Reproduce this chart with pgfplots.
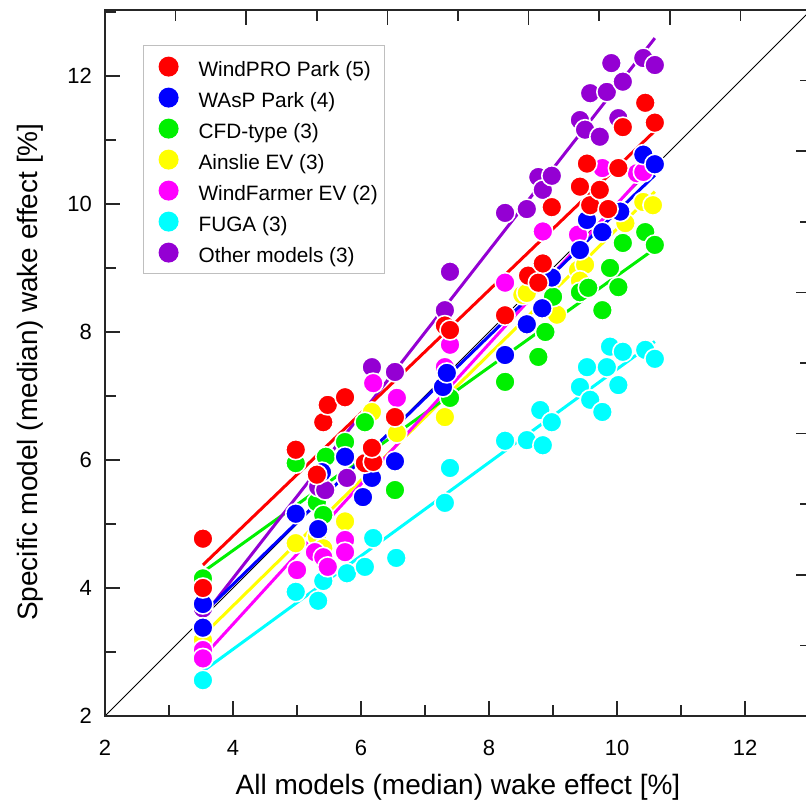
\documentclass[border=0pt]{standalone}
\usepackage{pgfplots}
\pgfplotsset{compat=1.18}
\usepackage{fontspec}
\setmainfont{Liberation Sans}
\definecolor{cRed}{RGB}{255,0,0}
\definecolor{cBlue}{RGB}{0,0,255}
\definecolor{cGreen}{RGB}{0,240,0}
\definecolor{cYellow}{RGB}{255,255,0}
\definecolor{cMag}{RGB}{255,0,255}
\definecolor{cCyan}{RGB}{0,255,255}
\definecolor{cPur}{RGB}{148,0,211}
\pgfplotsset{
  dot/.style={only marks, mark=*, mark size=5pt, mark options={fill=#1, draw=white, line width=0.8pt}, forget plot},
  fit/.style={#1, line width=1.5pt, forget plot},
  leg/.style={legend image code/.code={\path[draw=none,fill=none] (0pt,-5pt) rectangle (24pt,5pt); \fill[#1, draw=none] (11.5pt,0pt) circle (5pt);}},
}
\begin{document}
\begin{tikzpicture}
\begin{axis}[
  at={(0,0)}, anchor=south west,
  scale only axis, width=353pt, height=353pt,
  xmin=2, xmax=13.03, ymin=2, ymax=13.03,
  axis line style={line width=1pt, black!85},
  xtick={2,4,...,12}, minor xtick={3,5,...,13},
  ytick={2,4,...,12}, minor ytick={3,5,...,13},
  tick align=inside, tick pos=left,
  major tick length=7.5pt, minor tick length=5.5pt,
  every tick/.style={line width=0.75pt, black!85},
  tick label style={font=\fontsize{11}{13}\selectfont},
  /pgf/number format/assume math mode=true,
  xticklabel style={yshift=-8.5pt},
  yticklabel style={xshift=-3pt},
  xlabel={All models (median) wake effect [\%]},
  ylabel={Specific model (median) wake effect [\%]},
  label style={font=\fontsize{14}{16}\selectfont},
  xlabel style={at={(axis description cs:0.5,0)}, anchor=base, yshift=-39pt},
  ylabel style={at={(axis description cs:0,0.487)}, anchor=base, yshift=33.5pt},
  legend style={at={(axis description cs:0.0538,0.9504)}, anchor=north west,
    draw=black!25, line width=0.6pt, font=\fontsize{10.4}{12}\selectfont,
    row sep=0.5pt, inner xsep=1pt, inner ysep=3pt,
    nodes={inner sep=2.5pt, text height=10pt, text depth=0pt}},
  legend cell align=left,
]
\addlegendimage{leg=cRed}\addlegendentry{WindPRO Park (5)}
\addlegendimage{leg=cBlue}\addlegendentry{WAsP Park (4)}
\addlegendimage{leg=cGreen}\addlegendentry{CFD-type (3)}
\addlegendimage{leg=cYellow}\addlegendentry{Ainslie EV (3)}
\addlegendimage{leg=cMag}\addlegendentry{WindFarmer EV (2)}
\addlegendimage{leg=cCyan}\addlegendentry{FUGA (3)}
\addlegendimage{leg=cPur}\addlegendentry{Other models (3)}

% 1:1 line
\addplot[black, line width=0.5pt, forget plot] coordinates {(2,2) (13.03,13.03)};
% fitted lines
\addplot[fit=cCyan] coordinates {(3.53,2.70) (10.59,7.85)};
\addplot[fit=cYellow] coordinates {(3.53,3.26) (10.59,10.19)};
\addplot[fit=cGreen] coordinates {(3.53,4.25) (10.59,9.30)};
\addplot[fit=cMag] coordinates {(3.53,2.92) (10.50,10.55)};
\addplot[fit=cPur] coordinates {(3.53,3.55) (10.59,12.59)};
\addplot[fit=cBlue] coordinates {(3.53,3.60) (10.59,10.45)};
\addplot[fit=cRed] coordinates {(3.53,4.36) (10.59,11.14)};

% Ainslie EV
\addplot[dot=cYellow] coordinates {
(3.53,3.19) (4.98,4.70) (5.31,4.80) (5.41,4.62) (5.75,5.04) (6.17,6.75) (6.56,6.42)
(7.31,6.67) (8.52,8.58) (8.59,8.61) (9.06,8.27) (9.39,8.97) (9.50,9.05) (9.42,8.80)
(10.13,9.70) (10.41,10.03) (10.56,9.98)};
% FUGA
\addplot[dot=cCyan] coordinates {
(3.53,2.56) (4.98,3.94) (5.33,3.80) (5.41,4.11) (5.78,4.23) (6.06,4.33) (6.19,4.78)
(6.55,4.47) (7.31,5.33) (7.39,5.875) (8.25,6.30) (8.59,6.31) (8.84,6.23) (8.80,6.78)
(8.98,6.59) (9.42,7.14) (9.58,6.94) (9.77,6.75) (9.53,7.45) (9.84,7.45) (10.02,7.17)
(9.89,7.77) (10.09,7.69) (10.44,7.72) (10.59,7.58)};
% CFD-type
\addplot[dot=cGreen] coordinates {
(3.53,4.15) (4.98,5.95) (5.31,5.34) (5.41,5.14) (5.45,6.05) (5.75,6.28) (6.06,6.59)
(6.53,5.53) (7.39,6.97) (8.25,7.22) (8.77,7.61) (8.88,8.00) (9.00,8.55) (9.42,8.62)
(9.55,8.69) (9.77,8.34) (9.89,9.00) (10.02,8.70) (10.09,9.39) (10.44,9.56) (10.59,9.36)};
% Other models
\addplot[dot=cPur] coordinates {
(3.53,3.68) (5.33,5.58) (5.44,5.53) (5.78,5.72) (6.17,7.45) (6.53,7.375) (7.31,8.34)
(7.39,8.94) (8.25,9.86) (8.59,9.92) (8.77,10.42) (8.84,10.22) (8.98,10.44) (9.42,11.31)
(9.50,11.16) (9.58,11.73) (9.73,11.05) (9.84,11.75) (9.91,12.20) (10.02,11.34)
(10.09,11.91) (10.41,12.28) (10.59,12.17)};
% WindFarmer EV
\addplot[dot=cMag] coordinates {
(3.53,3.03) (3.53,2.90) (5.00,4.28) (5.28,4.56) (5.41,4.48) (5.48,4.33) (5.75,4.75)
(5.75,4.56) (6.19,7.20) (6.56,6.97) (7.31,7.45) (7.39,7.80) (8.25,8.77) (8.84,9.57)
(9.39,9.52) (9.77,10.56) (10.31,10.48) (10.41,10.50)};
% WAsP Park
\addplot[dot=cBlue] coordinates {
(3.53,3.75) (3.53,3.38) (4.98,5.16) (5.33,4.92) (5.39,5.81) (5.75,6.05) (6.03,5.42)
(6.17,5.72) (6.53,5.98) (7.28,7.14) (7.34,7.36) (8.25,7.64) (8.59,8.12) (8.83,8.37)
(8.98,8.85) (9.42,9.28) (9.53,9.75) (9.77,9.56) (10.05,9.88) (10.41,10.77) (10.59,10.62)};
% WindPRO Park
\addplot[dot=cRed] coordinates {
(3.53,4.77) (3.53,4.00) (4.98,6.16) (5.31,5.77) (5.41,6.59) (5.48,6.86) (5.75,6.98)
(6.06,5.95) (6.19,5.97) (6.17,6.19) (6.53,6.67) (7.31,8.10) (7.39,8.03) (8.25,8.26)
(8.61,8.88) (8.77,8.77) (8.84,9.07) (8.98,9.95) (9.42,10.27) (9.53,10.63) (9.58,9.98)
(9.73,10.22) (9.86,9.92) (10.02,10.56) (10.09,11.20) (10.44,11.58) (10.59,11.27)};
\end{axis}
\begin{axis}[
  at={(0,0)}, anchor=south west,
  scale only axis, width=353pt, height=353pt,
  xmin=0, xmax=10, ymin=0, ymax=10,
  axis line style={line width=1pt, black!85},
  xtick={0,2,...,10}, minor xtick={1,3,...,9},
  ytick={0,2,...,10}, minor ytick={1,3,...,9},
  tick align=inside, tick pos=right,
  major tick length=7.5pt, minor tick length=5.5pt,
  every tick/.style={line width=0.75pt, black!85},
  xticklabels={}, yticklabels={},
]
\addplot[draw=none] coordinates {(0,0)};
\end{axis}
\pgfresetboundingbox
\path[use as bounding box] (-52.5pt,-45pt) rectangle (350.5pt,358pt);
\end{tikzpicture}
\end{document}
